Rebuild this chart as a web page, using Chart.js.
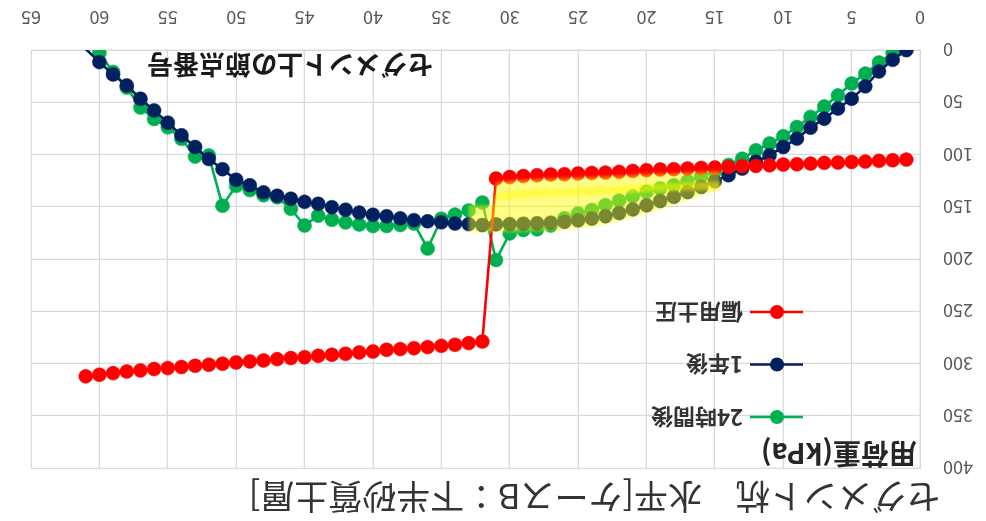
<!DOCTYPE html>
<html>
<head>
<meta charset="utf-8">
<script src="https://cdn.jsdelivr.net/npm/chart.js@4.4.1/dist/chart.umd.min.js"></script>
<style>
  html, body { margin: 0; padding: 0; background: #ffffff; }
  #wrap { position: absolute; left: 0; top: 0; width: 986px; height: 521px; transform: rotate(180deg); }
</style>
</head>
<body>
<div id="wrap"><canvas id="c" width="986" height="521"></canvas></div>
<script>
// ---- texts ----
const chartTitle = 'セグメント杭　水平[ケースB：下半砂質土層]';
const xTitle = 'セグメント上の節点番号';
const yTitle = '用荷重(kPa)';
const seriesNames = ['偏用土圧', '1年後', '24時間後'];

// ---- axis ticks ----
const xTicks = [0, 5, 10, 15, 20, 25, 30, 35, 40, 45, 50, 55, 60, 65];
const yTicks = [0, 50, 100, 150, 200, 250, 300, 350, 400];

// ---- node numbers along the segment ----
const nodes = [1, 2, 3, 4, 5, 6, 7, 8, 9, 10, 11, 12, 13, 14, 15, 16, 17, 18, 19, 20,
  21, 22, 23, 24, 25, 26, 27, 28, 29, 30, 31, 32, 33, 34, 35, 36, 37, 38, 39, 40,
  41, 42, 43, 44, 45, 46, 47, 48, 49, 50, 51, 52, 53, 54, 55, 56, 57, 58, 59, 60, 61];

// ---- loads (kPa) ----
const biasPressure = [104.9, 105.5, 106.1, 106.8, 107.1, 107.7, 108.0, 108.7, 109.3, 109.6,
  110.3, 110.9, 111.2, 111.9, 112.5, 112.8, 113.4, 114.1, 114.4, 115.0,
  115.7, 116.6, 117.3, 117.6, 118.2, 118.9, 119.2, 119.8, 120.6, 121.6,
  123.0, 278.9, 280.5, 282.1, 283.1, 284.3, 285.3, 286.2, 286.9, 288.5,
  289.4, 290.7, 291.6, 292.6, 293.9, 294.8, 295.8, 297.1, 298.0, 299.0,
  300.2, 301.2, 302.2, 303.4, 304.4, 305.3, 306.6, 307.6, 309.2, 310.7, 312.3];

const after1Year = [0, 9.4, 20.5, 34.8, 46.6, 56.0, 65.7, 74.3, 84.8, 92.8,
  100.7, 107.0, 113.5, 119.8, 125.5, 131.0, 136.0, 140.5, 144.5, 148.5,
  152.5, 156.0, 159.0, 161.2, 163.0, 164.4, 165.2, 165.8, 166.2, 166.6,
  166.8, 167.5, 166.6, 166.0, 164.9, 163.9, 162.8, 161.1, 159.1, 157.7,
  155.6, 152.9, 150.4, 147.2, 145.3, 142.3, 139.5, 136.2, 129.4, 124.2,
  114.0, 104.3, 92.8, 81.6, 69.5, 57.8, 46.6, 33.9, 23.4, 11.6, -1.0];

const after24Hours = [0, 3.0, 12.0, 22.6, 32.0, 43.4, 54.0, 64.0, 73.7, 82.6,
  89.5, 96.0, 104.0, 110.0, 116.0, 121.0, 125.5, 129.4, 132.5, 135.7,
  140.0, 144.0, 148.4, 153.0, 156.4, 161.0, 168.0, 171.6, 172.3, 175.5,
  201.0, 146.0, 153.5, 157.5, 161.5, 190.0, 166.0, 167.5, 168.5, 168.5,
  167.0, 165.0, 162.5, 158.5, 168.0, 152.0, 141.0, 139.0, 134.0, 130.0,
  149.0, 101.0, 102.0, 85.0, 74.0, 66.0, 55.0, 36.0, 21.0, 3.0, -6.0];

// node range covered by the yellow highlighter mark
const highlightNodes = [15, 31, 33];

// ---- styles ----
const JP = '"Noto Sans CJK JP", "Noto Sans", sans-serif';
const colors = { bias: '#ff0000', year: '#002060', day: '#00b050' };
const tickColor = '#595959';
const gridColor = '#d9d9d9';
const markerRadius = 7;

const toXY = vals => nodes.map((n, i) => ({ x: n, y: vals[i] }));
const hideBelowZero = ctx => (ctx.raw && ctx.raw.y < 0 ? 0 : markerRadius);

const datasets = [
  { label: seriesNames[0], data: toXY(biasPressure), borderColor: colors.bias, backgroundColor: colors.bias },
  { label: seriesNames[1], data: toXY(after1Year), borderColor: colors.year, backgroundColor: colors.year },
  { label: seriesNames[2], data: toXY(after24Hours), borderColor: colors.day, backgroundColor: colors.day }
].map(d => Object.assign(d, {
  borderWidth: 2.6,
  pointRadius: hideBelowZero,
  pointHoverRadius: hideBelowZero,
  pointBorderWidth: 0.5,
  pointBorderColor: d.borderColor,
  pointBackgroundColor: d.borderColor,
  tension: 0,
  fill: false
}));

// yellow highlighter drawn over the region between the pressure line and the 1-year line
const highlighter = {
  id: 'highlighter',
  afterDatasetsDraw(chart) {
    const { ctx, scales: { x, y } } = chart;
    const [from, to, ext] = highlightNodes;
    const px = n => x.getPixelForValue(n);
    const py = (arr, n) => y.getPixelForValue(arr[nodes.indexOf(n)]);
    const range = [];
    for (let n = from; n <= to; n++) range.push(n);

    // upper stroke hugging the pressure line
    const upper = [];
    range.forEach((n, i) => upper.push([px(n) - (i === 0 ? 5 : 0), py(biasPressure, n) - 4]));
    range.slice().reverse().forEach((n, i, a) => upper.push([px(n) - (i === a.length - 1 ? 5 : 0), py(biasPressure, n) - 22]));

    // lower stroke reaching down past the 1-year line
    const lower = [];
    range.forEach((n, i) => lower.push([px(n) - (i === 0 ? 5 : 0), py(biasPressure, n) - 14]));
    lower.push([px(to) + 4, py(after1Year, to) + 19]);
    lower.push([px(ext), py(after1Year, ext) + 19]);
    lower.push([px(ext), py(after1Year, ext) - 8]);
    for (let n = to; n >= from; n--) lower.push([px(n) - (n === from ? 5 : 0), py(after1Year, n) - 8]);

    ctx.save();
    ctx.beginPath();
    ctx.rect(chart.chartArea.left, chart.chartArea.top, chart.chartArea.width, chart.chartArea.height);
    ctx.clip();
    ctx.filter = 'blur(1.5px)';
    ctx.fillStyle = 'rgba(255, 250, 0, 0.48)';
    [upper, lower].forEach(poly => {
      ctx.beginPath();
      poly.forEach(([a, b], i) => (i ? ctx.lineTo(a, b) : ctx.moveTo(a, b)));
      ctx.closePath();
      ctx.fill();
    });
    ctx.restore();
  }
};

// axis titles placed inside the plot area
const axisTitles = {
  id: 'axisTitles',
  afterDraw(chart) {
    const { ctx, chartArea: a } = chart;
    ctx.save();
    ctx.fillStyle = '#1a1a1a';
    ctx.textBaseline = 'middle';
    ctx.font = 'bold 26px ' + JP;
    ctx.textAlign = 'center';
    ctx.fillText(xTitle, a.left + 630, a.bottom - 15);
    ctx.fillStyle = '#262626';
    ctx.font = 'bold 28px ' + JP;
    ctx.textAlign = 'left';
    ctx.fillText(yTitle, a.left + 3, a.top + 14);
    ctx.restore();
  }
};

// legend stacked inside the plot area
const insideLegend = {
  id: 'insideLegend',
  afterDraw(chart) {
    const { ctx, chartArea: a } = chart;
    const cx = a.left + 143;
    const order = [2, 1, 0];
    ctx.save();
    order.forEach((di, k) => {
      const ds = chart.data.datasets[di];
      const cy = a.top + 51 + k * 52.5;
      ctx.strokeStyle = ds.borderColor;
      ctx.lineWidth = 2.6;
      ctx.beginPath();
      ctx.moveTo(cx - 26, cy);
      ctx.lineTo(cx + 27, cy);
      ctx.stroke();
      ctx.fillStyle = ds.borderColor;
      ctx.beginPath();
      ctx.arc(cx, cy, markerRadius, 0, Math.PI * 2);
      ctx.fill();
      ctx.fillStyle = '#333333';
      ctx.font = 'bold 22px ' + JP;
      ctx.textAlign = 'left';
      ctx.textBaseline = 'middle';
      ctx.fillText(ds.label, cx + 34, cy);
    });
    ctx.restore();
  }
};

// title starts a little right of the canvas edge
const titleIndent = {
  id: 'titleIndent',
  afterLayout(chart) {
    if (chart.titleBlock) chart.titleBlock.left += 46;
  }
};

new Chart(document.getElementById('c'), {
  type: 'line',
  data: { datasets },
  plugins: [highlighter, axisTitles, insideLegend, titleIndent],
  options: {
    responsive: false,
    animation: false,
    devicePixelRatio: 1,
    layout: { padding: { left: 0, right: 17, top: 0, bottom: 0 } },
    plugins: {
      legend: { display: false },
      tooltip: { enabled: false },
      title: {
        display: true,
        text: chartTitle,
        align: 'start',
        color: '#333333',
        font: { family: JP, size: 34, weight: 'normal', lineHeight: 1.2 },
        padding: { top: 4, bottom: 8.2 }
      }
    },
    scales: {
      x: {
        type: 'linear',
        min: 0,
        max: 65,
        afterBuildTicks: s => { s.ticks = xTicks.map(v => ({ value: v })); },
        afterFit: s => { s.height = 50; },
        grid: { color: gridColor, lineWidth: 1.3, drawTicks: false },
        border: { color: gridColor, width: 1.3 },
        ticks: { color: tickColor, padding: 21, maxRotation: 0, font: { family: JP, size: 18 } }
      },
      y: {
        type: 'linear',
        min: 0,
        max: 400,
        afterBuildTicks: s => { s.ticks = yTicks.map(v => ({ value: v })); },
        afterFit: s => { s.width = 66; },
        grid: { color: gridColor, lineWidth: 1.3, drawTicks: false },
        border: { color: gridColor, width: 1.3 },
        ticks: { color: tickColor, padding: 23, font: { family: JP, size: 18 } }
      }
    }
  }
});
</script>
</body>
</html>
